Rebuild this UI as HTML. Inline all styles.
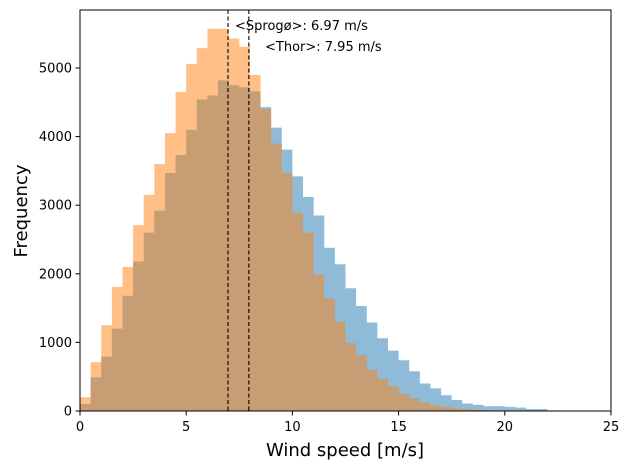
<!DOCTYPE html>
<html><head><meta charset="utf-8"><style>
body{margin:0;background:#fff}
svg{display:block;font-family:"DejaVu Sans","Liberation Sans",sans-serif}
</style></head><body>
<svg id="s" width="630" height="470" xmlns="http://www.w3.org/2000/svg"></svg>
<script>
const s=document.getElementById('s');
const X0=80,X1=611,Y0=411,YT=10;
const sx=v=>X0+v*(X1-X0)/25, sy=v=>Y0-v*343/5000;
const blue=[100,490,790,1200,1680,2180,2600,2920,3470,3730,4100,4540,4600,4820,4750,4720,4660,4430,4130,3810,3420,3120,2850,2380,2140,1790,1530,1290,1060,880,740,580,400,330,230,160,110,90,70,70,60,50,30,30,10,5];
const orng=[200,710,1250,1810,2100,2710,3150,3600,4050,4650,5060,5290,5570,5570,5430,5310,4900,4400,3900,3470,2890,2600,1990,1640,1300,990,810,600,470,360,250,180,120,80,60,40,30,20,10,5];
let h='';
function bars(d,c){let p=`M${sx(0)},${Y0}`;d.forEach((v,i)=>{p+=` L${sx(i*0.5)},${sy(v)} L${sx(i*0.5+0.5)},${sy(v)}`});p+=` L${sx(d.length*0.5)},${Y0} Z`;return `<path d="${p}" fill="${c}" fill-opacity="0.5"/>`;}
h+=bars(blue,'#1f77b4');h+=bars(orng,'#ff7f0e');
h+=`<line x1="${sx(6.97)}" y1="${YT}" x2="${sx(6.97)}" y2="${Y0}" stroke="#000" stroke-dasharray="4,2.5" stroke-width="1.1"/>`;
h+=`<line x1="${sx(7.95)}" y1="${YT}" x2="${sx(7.95)}" y2="${Y0}" stroke="#000" stroke-dasharray="4,2.5" stroke-width="1.1"/>`;
h+=`<rect x="${X0}" y="${YT}" width="${X1-X0}" height="${Y0-YT}" fill="none" stroke="#000" stroke-width="1"/>`;
for(let v=0;v<=25;v+=5){const x=sx(v);h+=`<line x1="${x}" y1="${Y0}" x2="${x}" y2="${Y0+4.5}" stroke="#000" stroke-width="1"/><text x="${x}" y="${Y0+20}" font-size="13" text-anchor="middle">${v}</text>`;}
for(let v=0;v<=5000;v+=1000){const y=sy(v);h+=`<line x1="${X0-4.5}" y1="${y}" x2="${X0}" y2="${y}" stroke="#000" stroke-width="1"/><text x="${X0-8}" y="${y+4.5}" font-size="13" text-anchor="end">${v}</text>`;}
h+=`<text x="235" y="30" font-size="13">&lt;Sprogø&gt;: 6.97 m/s</text>`;
h+=`<text x="265" y="51" font-size="13">&lt;Thor&gt;: 7.95 m/s</text>`;
h+=`<text x="345" y="456" font-size="18" text-anchor="middle">Wind speed [m/s]</text>`;
h+=`<text transform="translate(27,211) rotate(-90)" font-size="18" text-anchor="middle">Frequency</text>`;
s.innerHTML=h;
</script>
</body></html>
